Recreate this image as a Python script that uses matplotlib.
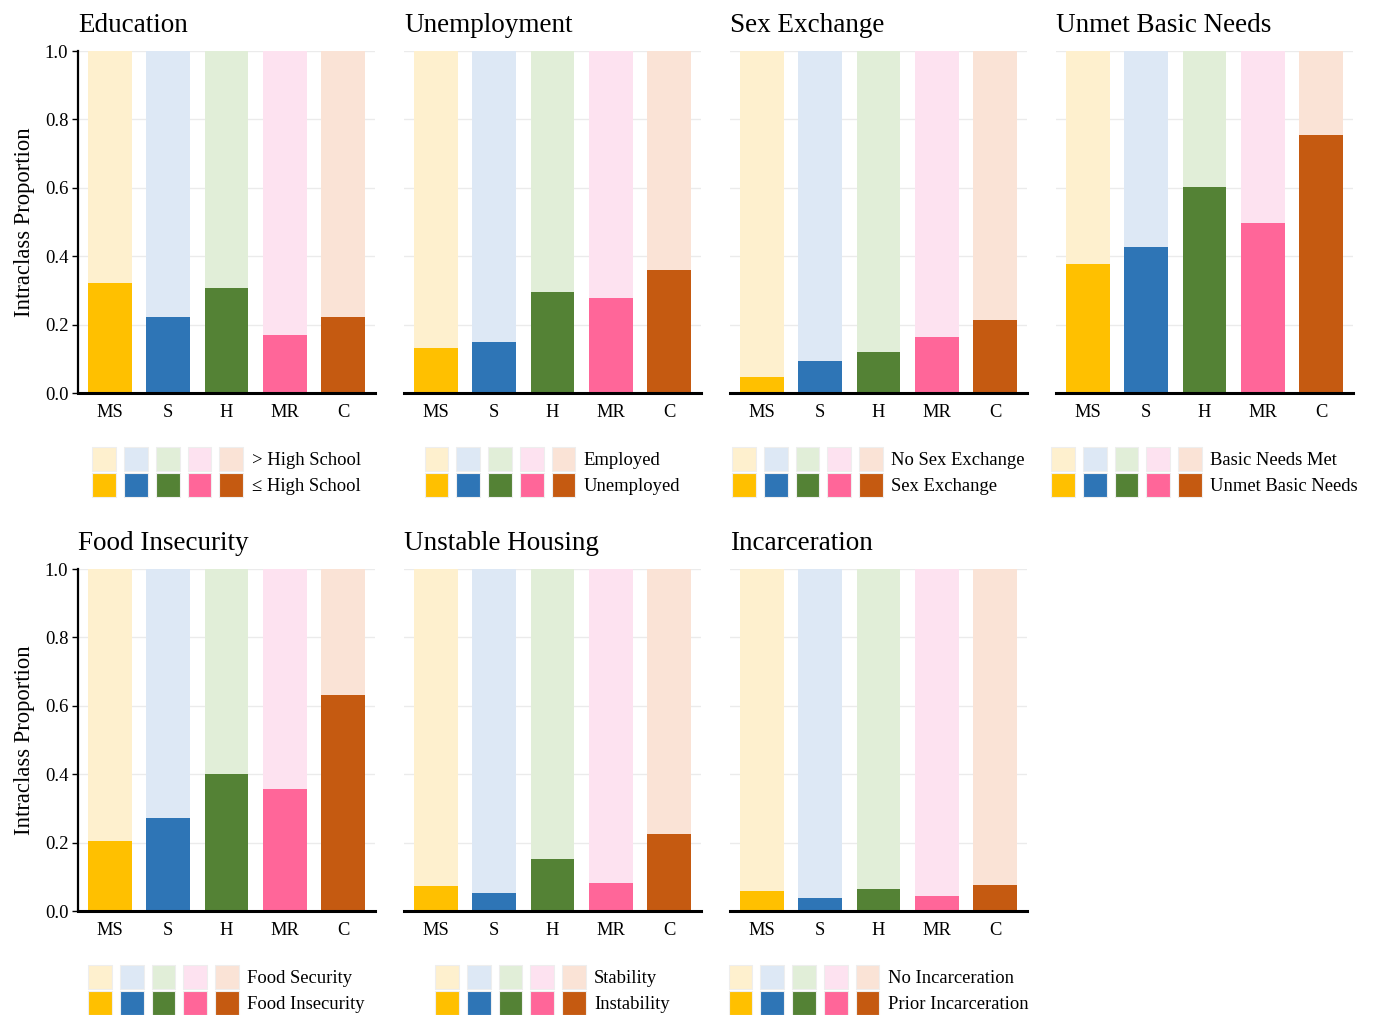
import matplotlib
matplotlib.use("Agg")
import matplotlib.pyplot as plt
from matplotlib.patches import Rectangle
from matplotlib.legend_handler import HandlerBase

plt.rcParams["font.family"] = ["Liberation Serif", "DejaVu Serif"]

classes = ["MS", "S", "H", "MR", "C"]
dark_colors = ["#FFC000", "#2E75B6", "#548235", "#FF6699", "#C55A11"]
light_colors = ["#FEF0CE", "#DDE8F5", "#E1EED8", "#FDE2F0", "#FAE3D6"]

titles = ["Education", "Unemployment", "Sex Exchange", "Unmet Basic Needs",
          "Food Insecurity", "Unstable Housing", "Incarceration"]
upper_labels = ["> High School", "Employed", "No Sex Exchange", "Basic Needs Met",
                "Food Security", "Stability", "No Incarceration"]
lower_labels = ["\u2264 High School", "Unemployed", "Sex Exchange", "Unmet Basic Needs",
                "Food Insecurity", "Instability", "Prior Incarceration"]

education = [0.322, 0.222, 0.307, 0.170, 0.222]
unemployment = [0.132, 0.149, 0.295, 0.278, 0.360]
sex_exchange = [0.047, 0.094, 0.120, 0.164, 0.213]
unmet_needs = [0.377, 0.427, 0.602, 0.497, 0.754]
food_insecurity = [0.205, 0.272, 0.401, 0.357, 0.632]
unstable_housing = [0.073, 0.053, 0.152, 0.082, 0.225]
incarceration = [0.058, 0.038, 0.064, 0.044, 0.076]
panel_values = [education, unemployment, sex_exchange, unmet_needs,
                food_insecurity, unstable_housing, incarceration]


class SwatchRow:
    """A row of colour swatches used as a single legend handle."""
    def __init__(self, colors):
        self.colors = colors


class HandlerSwatchRow(HandlerBase):
    def create_artists(self, legend, orig_handle, xdescent, ydescent,
                       width, height, fontsize, trans):
        n = len(orig_handle.colors)
        gap = 0.34
        s = width / (n + (n - 1) * gap)
        artists = []
        for i, c in enumerate(orig_handle.colors):
            r = Rectangle((-xdescent + i * s * (1 + gap), -ydescent),
                          s, height, facecolor=c, edgecolor="#EEEEEE",
                          linewidth=0.8, transform=trans)
            artists.append(r)
        return artists


W, H = 1374, 1015
fig = plt.figure(figsize=(W / 100, H / 100), dpi=100)

lefts = [78, 404, 730, 1056]
ax_w = 297
ax_h = 342
tops = [51, 569]

x = list(range(len(classes)))
for k, (title, vals) in enumerate(zip(titles, panel_values)):
    row, col = divmod(k, 4)
    left = lefts[col]
    top = tops[row]
    ax = fig.add_axes([left / W, (H - top - ax_h) / H, ax_w / W, ax_h / H])
    ax.set_axisbelow(True)
    ax.yaxis.grid(True, color="#EBEBEB", linewidth=1.0)
    ax.bar(x, [1 - v for v in vals], bottom=vals, width=0.75, color=light_colors)
    ax.bar(x, vals, width=0.75, color=dark_colors)
    ax.set_xlim(-0.55, 4.55)
    ax.set_ylim(0, 1.0)
    ax.set_yticks([0, 0.2, 0.4, 0.6, 0.8, 1.0])
    ax.set_xticks(x)
    ax.set_xticklabels(classes, fontsize=13.3)
    ax.tick_params(axis="x", length=0, pad=8)
    for s in ["top", "right"]:
        ax.spines[s].set_visible(False)
    ax.spines["bottom"].set_linewidth(2.2)
    ax.spines["bottom"].set_color("black")
    if col == 0:
        ax.set_yticklabels(["0.0", "0.2", "0.4", "0.6", "0.8", "1.0"], fontsize=13.5)
        ax.tick_params(axis="y", length=4, width=1, pad=3)
        ax.spines["left"].set_linewidth(1.6)
        ax.set_ylabel("Intraclass Proportion", fontsize=16.3, labelpad=7)
    else:
        ax.spines["left"].set_visible(False)
        ax.tick_params(axis="y", length=0, labelleft=False)
    ax.set_title(title, loc="left", fontsize=19.5, pad=14)

    handles = [SwatchRow(light_colors), SwatchRow(dark_colors)]
    ax.legend(handles, [upper_labels[k], lower_labels[k]],
              handler_map={SwatchRow: HandlerSwatchRow()},
              loc="upper center", bbox_to_anchor=(0.5, -0.12),
              frameon=False, fontsize=13.4, handlelength=8.1, handleheight=1.6,
              labelspacing=0.12, handletextpad=0.45, borderpad=0.2)

fig.savefig("out.png", dpi=100, facecolor="white")
